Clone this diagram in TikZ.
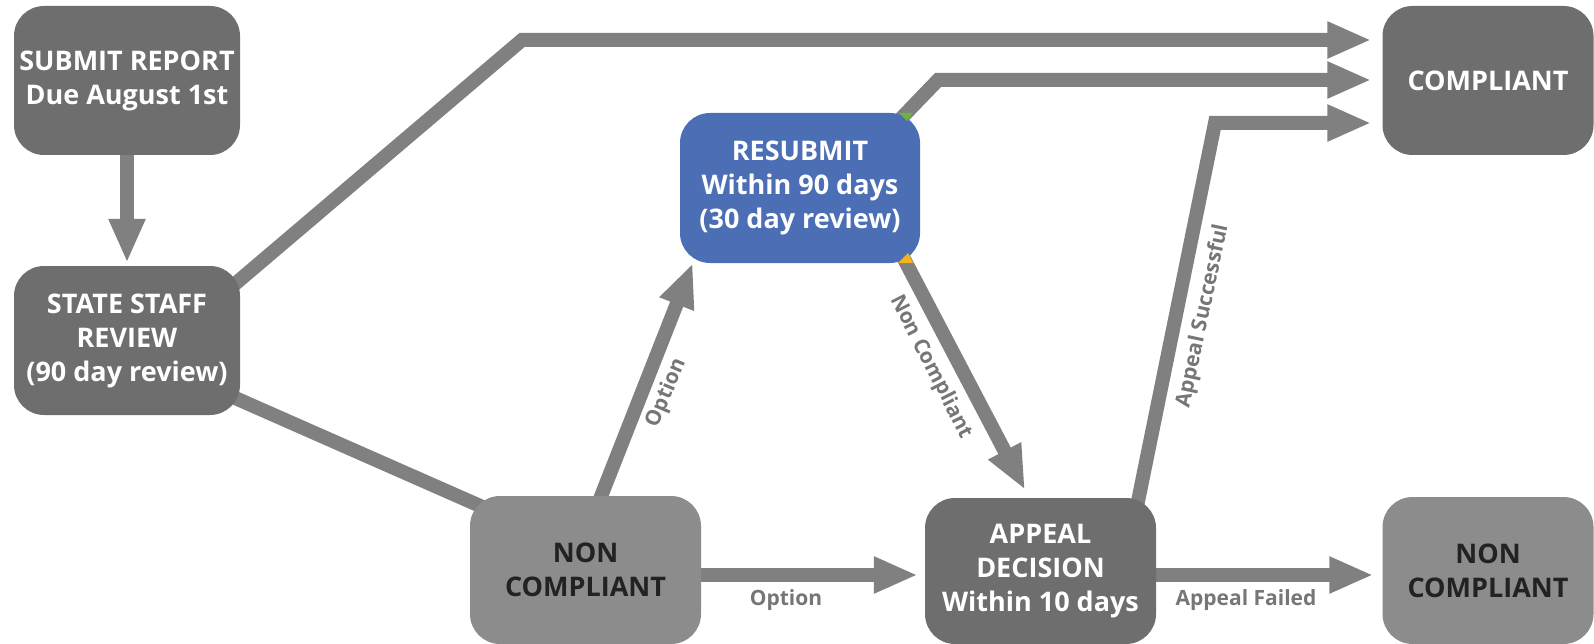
\documentclass[tikz,border=0pt]{standalone}
\usepackage{fontspec}
\setmainfont{Open Sans}
\usetikzlibrary{arrows.meta,calc}
\pgfdeclarelayer{bg}
\pgfsetlayers{bg,main}
\definecolor{boxdark}{RGB}{110,110,110}
\definecolor{boxlight}{RGB}{140,140,140}
\definecolor{arrgray}{RGB}{128,128,128}
\definecolor{rsblue}{RGB}{76,110,180}
\definecolor{lblgray}{RGB}{118,118,118}
\definecolor{nctext}{RGB}{34,34,34}
\definecolor{bitgreen}{RGB}{110,180,60}
\definecolor{bityellow}{RGB}{245,180,30}
\begin{document}
\begin{tikzpicture}[x=1pt,y=-1pt,
  box/.style={rounded corners=30pt, inner sep=0pt, align=center,
    font=\fontsize{27}{34}\selectfont\bfseries},
  darkbox/.style={box, fill=boxdark, text=white},
  lightbox/.style={box, fill=boxlight, text=nctext},
  bluebox/.style={box, fill=rsblue, text=white},
  conn/.style={draw=arrgray, line width=14pt, line join=miter},
  arr/.style={conn, -{Triangle[length=44pt,width=34pt]}},
  lbl/.style={text=lblgray, font=\fontsize{21}{24}\selectfont\bfseries, inner sep=0pt}
]
\useasboundingbox (0,0) rectangle (1594,644);

\node[darkbox, minimum width=226pt, minimum height=149pt] (sub) at (127,80.5) {SUBMIT REPORT\\Due August 1st};
\node[darkbox, minimum width=226pt, minimum height=149pt] (st) at (127,340.5) {STATE STAFF\\REVIEW\\(90 day review)};
\node[bluebox, minimum width=240pt, minimum height=150pt] (rs) at (800,188) {RESUBMIT\\Within 90 days\\(30 day review)};
\node[lightbox, minimum width=231pt, minimum height=148pt] (nc) at (585.5,570) {NON\\COMPLIANT};
\node[darkbox, minimum width=231pt, minimum height=146pt] (ap) at (1040.5,571) {APPEAL\\DECISION\\Within 10 days};
\node[darkbox, minimum width=211pt, minimum height=149pt] (comp) at (1488,80.5) {COMPLIANT};
\node[lightbox, minimum width=211pt, minimum height=147pt] (nr) at (1488,570.5) {NON\\COMPLIANT};

\fill[bitgreen] (899,113) -- (913,113) -- (907,121) -- cycle;
\fill[bityellow] (898,263) -- (913,263) -- (908,253) -- cycle;

\coordinate (b1) at (522,40);
\coordinate (b2) at (938,80);
\coordinate (b3) at (1215,123);

\begin{pgfonlayer}{bg}
  \draw[arr] (sub.south) -- ($(st.north)+(0,-3)$);
  \draw[arr, shorten >=11pt] ($(st.north east)+(-25,35)$) -- (b1) -- (b1 -| comp.west);
  \draw[arr, shorten >=11pt] ($(rs.north east)+(-33,20)$) -- (b2) -- (b2 -| comp.west);
  \draw[arr, shorten >=11pt] ($(ap.north east)+(-24,32)$) -- (b3) -- (b3 -| comp.west);
  \draw[arr] ($(nc.north)+(5.5,26)$) -- ($(rs.south west)+(13,0)$);
  \draw[arr] ($(rs.south east)+(-25,-21)$) -- ($(ap.north)+(-15.5,-8)$);
  \draw[conn] ($(st.south east)+(-25,-26)$) -- ($(nc.north west)+(35,21)$);
  \draw[arr] ($(nc.east)+(0,5)$) -- ($(ap.west)+(-7,4)$);
  \draw[arr] ($(ap.east)+(0,4)$) -- ($(nr.west)+(-9,4.5)$);
\end{pgfonlayer}

\node[lbl, rotate=67] (l1) at (667,393) {Option};
\node[lbl, rotate=-63] (l2) at (931,367) {Non Compliant};
\node[lbl, rotate=78] (l3) at (1203,316) {Appeal Successful};
\node[lbl] (l4) at (786,600) {Option};
\node[lbl] (l5) at (1246,600) {Appeal Failed};
\end{tikzpicture}
\end{document}
